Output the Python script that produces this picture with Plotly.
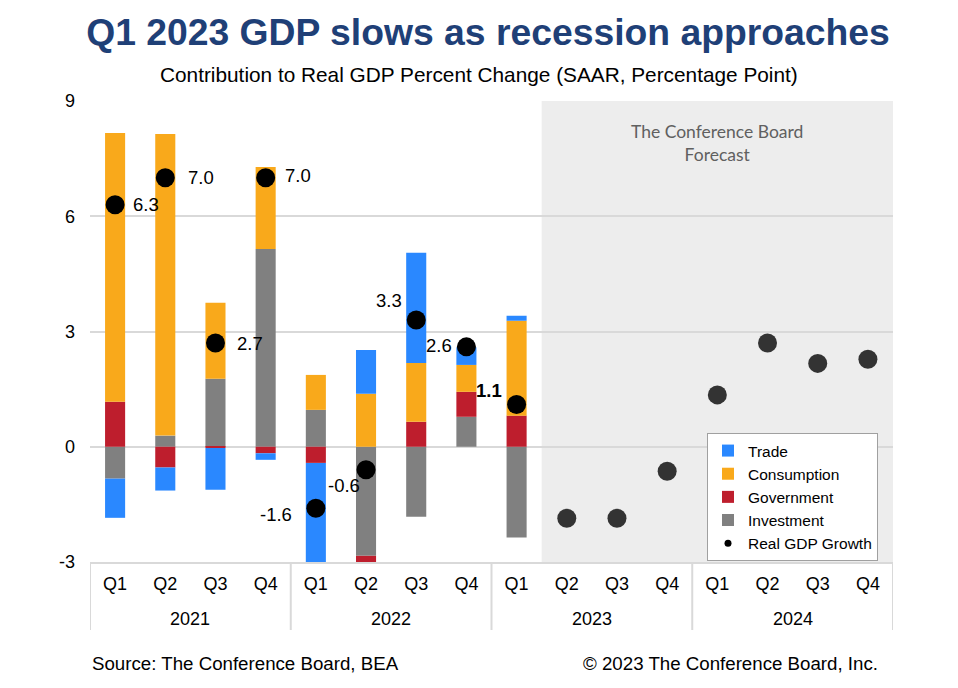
import plotly.graph_objects as go

# ---------------- data ----------------
years = ["2021"] * 4 + ["2022"] * 4 + ["2023"] * 4 + ["2024"] * 4
quarters = ["Q1", "Q2", "Q3", "Q4"] * 4

n_actual = 9  # Q1 2021 .. Q1 2023

investment = [-0.83, 0.29, 1.77, 5.15, 0.96, -2.84, -1.82, 0.78, -2.36]
government = [1.17, -0.54, -0.03, -0.17, -0.42, -0.30, 0.65, 0.65, 0.81]
consumption = [7.00, 7.85, 1.98, 2.13, 0.91, 1.38, 1.53, 0.70, 2.47]
trade = [-1.02, -0.60, -1.09, -0.17, -2.70, 1.14, 2.87, 0.46, 0.13]

gdp_actual = [6.3, 7.0, 2.7, 7.0, -1.6, -0.6, 3.3, 2.6, 1.1]
gdp_forecast = [-1.86, -1.86, -0.64, 1.35, 2.70, 2.17, 2.28]

y_ticks = [-3, 0, 3, 6, 9]

# label placement (style only)
lab_anchor = ["left", "left", "left", "left", "right", "right", "right", "right", "right"]
lab_dx = [16, 21, 20, 17, -22, -4, -12, -12, -13]
lab_dy = [0, 0, 0, 2, -6, -16, 19, 1, 14]
lab_bold = [False] * 8 + [True]

# ---------------- colours / fonts ----------------
C_TRADE = "#2a88ff"
C_CONS = "#f9a91b"
C_GOV = "#be1e2d"
C_INV = "#808080"
GRID = "#d9d9d9"
FONT = "Arial, Liberation Sans, sans-serif"

# page is drawn with an 8px body offset
OFF = 8

cats = [f"{q} {y}" for q, y in zip(quarters, years)]
x_act = cats[:n_actual]
x_fc = cats[n_actual:]
n_total = len(cats)

fig = go.Figure()

# stacking order from zero: Investment, Government, Consumption, Trade
fig.add_trace(go.Bar(x=x_act, y=investment, name="Investment", marker_color=C_INV,
                     marker_line_width=0, legendrank=4))
fig.add_trace(go.Bar(x=x_act, y=government, name="Government", marker_color=C_GOV,
                     marker_line_width=0, legendrank=3))
fig.add_trace(go.Bar(x=x_act, y=consumption, name="Consumption", marker_color=C_CONS,
                     marker_line_width=0, legendrank=2))
fig.add_trace(go.Bar(x=x_act, y=trade, name="Trade", marker_color=C_TRADE,
                     marker_line_width=0, legendrank=1))

fig.add_trace(go.Scatter(x=x_act, y=gdp_actual, mode="markers",
                         marker=dict(color="#000000", size=19),
                         showlegend=False, cliponaxis=False))
fig.add_trace(go.Scatter(x=x_fc, y=gdp_forecast, mode="markers",
                         marker=dict(color="#333333", size=19),
                         showlegend=False))
# legend entry for GDP dots
fig.add_trace(go.Scatter(x=[None], y=[None], mode="markers", name="Real GDP Growth",
                         marker=dict(color="#000000", size=7), legendrank=5))

# data labels for actual GDP
for xc, v, anc, dx, dy, b in zip(x_act, gdp_actual, lab_anchor, lab_dx, lab_dy, lab_bold):
    t = f"{v:.1f}"
    fig.add_annotation(x=xc, y=v, xref="x", yref="y", text=f"<b>{t}</b>" if b else t,
                       showarrow=False, xanchor=anc, yanchor="middle",
                       xshift=dx, yshift=dy,
                       font=dict(family=FONT, size=18.5, color="#000000"))

# forecast shading
fig.add_shape(type="rect", xref="x", yref="paper",
              x0=n_actual - 0.5, x1=n_total - 0.5, y0=0, y1=1,
              fillcolor="#ededed", line_width=0, layer="below")

# year group labels and dividers
groups = []
for i, yr in enumerate(years):
    if not groups or groups[-1][0] != yr:
        groups.append([yr, i, i])
    else:
        groups[-1][2] = i
div_y = (562 - 630) / 461
for yr, i0, i1 in groups:
    fig.add_annotation(x=(i0 + i1) / 2, y=(562 - 619) / 461, xref="x", yref="paper",
                       text=yr, showarrow=False, yanchor="middle",
                       font=dict(family=FONT, size=18, color="#000000"))
    fig.add_shape(type="line", xref="x", yref="paper", x0=i0 - 0.5, x1=i0 - 0.5,
                  y0=0, y1=div_y, line=dict(color=GRID, width=2))
fig.add_shape(type="line", xref="x", yref="paper", x0=n_total - 0.5, x1=n_total - 0.5,
              y0=0, y1=div_y, line=dict(color=GRID, width=2))

fig.update_layout(
    width=958, height=688,
    margin=dict(l=90 - OFF, r=958 - 893 + OFF, t=101 - OFF, b=688 - 562 + OFF,
                autoexpand=False),
    paper_bgcolor="white", plot_bgcolor="white",
    barmode="relative", bargap=0.6,
    font=dict(family=FONT, size=18, color="#000000"),
    title=dict(text="<b>Q1 2023 GDP slows as recession approaches</b>",
               x=(488 - OFF) / 958, xref="container", xanchor="center",
               y=1 - (32 - OFF) / 688, yref="container", yanchor="middle",
               font=dict(family=FONT, size=37.3, color="#1f4077")),
    showlegend=True,
    legend=dict(x=(707 - 90) / 803, y=(562 - 433) / 461, xanchor="left", yanchor="top",
                bgcolor="white", bordercolor="#a0a0a0", borderwidth=1,
                font=dict(family=FONT, size=15.5, color="#000000"),
                tracegroupgap=0, itemwidth=30),
    xaxis=dict(type="category", categoryorder="array", categoryarray=cats,
               range=[-0.5, n_total - 0.5], automargin=False,
               tickmode="array", tickvals=cats, ticktext=quarters,
               showgrid=False, showline=True, linecolor=GRID, linewidth=2, ticks="",
               ticklabelstandoff=4,
               tickfont=dict(family=FONT, size=18, color="#000000")),
    yaxis=dict(range=[-3, 9], tickvals=y_ticks, ticktext=[str(v) for v in y_ticks],
               automargin=False, showgrid=True, gridcolor=GRID, gridwidth=2,
               zeroline=False, ticks="", ticklabelstandoff=14,
               tickfont=dict(family=FONT, size=18, color="#000000")),
)

fig.add_annotation(text="Contribution to Real GDP Percent Change (SAAR, Percentage Point)",
                   xref="paper", yref="paper", x=(479 - 90) / 803, y=(562 - 75) / 461,
                   showarrow=False, yanchor="middle",
                   font=dict(family=FONT, size=20.8, color="#000000"))
fig.add_annotation(text="The Conference Board<br>Forecast",
                   xref="x", yref="paper", x=(n_actual - 0.5 + n_total - 0.5) / 2,
                   y=(562 - 143) / 461,
                   showarrow=False, align="center", yanchor="middle",
                   font=dict(family="Lato, Open Sans, sans-serif", size=17.5, color="#606060"))
fig.add_annotation(text="Source: The Conference Board, BEA",
                   xref="paper", yref="paper", x=0, y=(562 - 663) / 461,
                   xanchor="left", yanchor="middle", showarrow=False,
                   font=dict(family=FONT, size=18.7, color="#000000"))
fig.add_annotation(text="© 2023 The Conference Board, Inc.",
                   xref="paper", yref="paper", x=(880 - 90) / 803, y=(562 - 663) / 461,
                   xanchor="right", yanchor="middle", showarrow=False,
                   font=dict(family=FONT, size=18.7, color="#000000"))

fig.write_html("out.html")
